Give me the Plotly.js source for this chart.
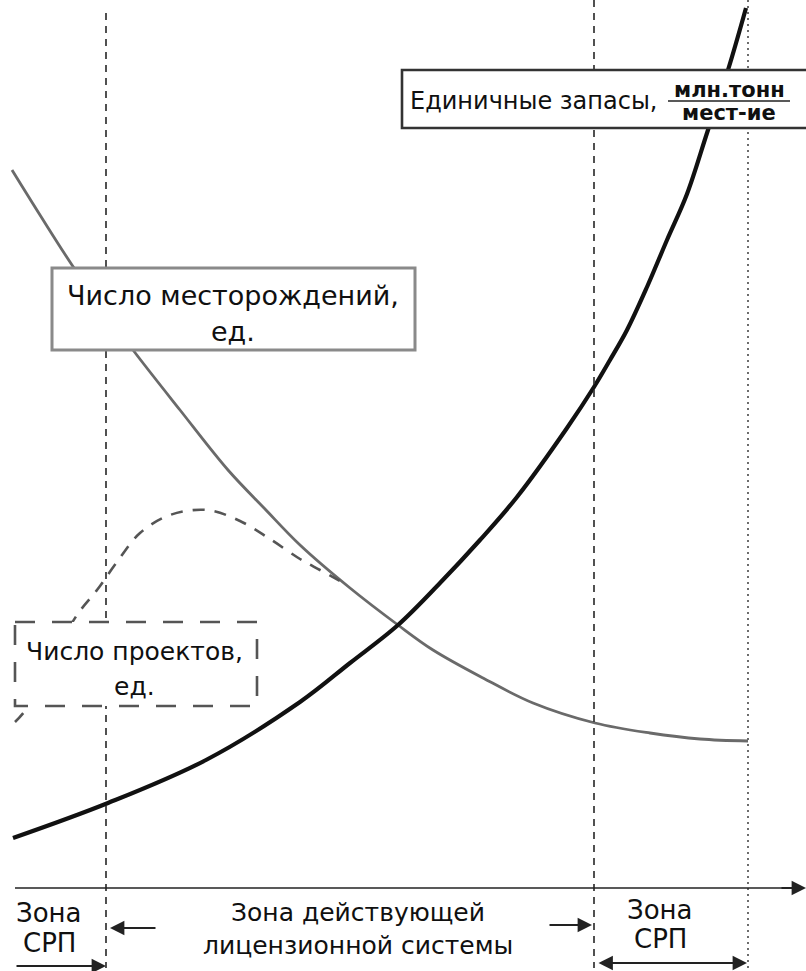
<!DOCTYPE html>
<html>
<head>
<meta charset="utf-8">
<script src="https://cdn.plot.ly/plotly-3.0.1.min.js"></script>
<style>
  html, body { margin: 0; padding: 0; background: #ffffff; }
  #chart { width: 806px; height: 971px; }
</style>
</head>
<body>
<div id="chart"></div>
<script>
// ---- data (x = position along the horizontal axis, y = height above it) ----
const reservesX = [13, 108, 206, 300, 350, 398, 440, 480, 517, 567, 594, 610, 627, 647, 667, 687, 708, 728, 746];
const reservesY = [50, 85, 128, 186, 225, 263, 305, 348, 391, 460, 501, 528, 558, 601, 648, 694, 758, 818, 880];

const fieldsX = [12, 40, 72, 100, 133, 180, 228, 265, 300, 350, 398, 433, 483, 533, 595, 650, 700, 748];
const fieldsY = [718, 673, 623, 583, 538, 478, 418, 379, 343, 300, 263, 238, 210, 185, 165, 155, 149, 147];

const projectsX = [15, 27, 50, 77, 97, 117, 140, 170, 207, 240, 270, 300, 320, 342];
const projectsY = [166, 180, 225, 273, 298, 326, 355, 373, 378, 367, 349, 329, 318, 306];

const zoneBounds = [106, 594, 748];

const fieldsLabel = ["Число месторождений,", "ед."];
const projectsLabel = ["Число проектов,", "ед."];
const reservesLabel = "Единичные запасы,";
const reservesUnit = ["млн.тонн", "мест-ие"];
const leftZone = ["Зона", "СРП"];
const midZone = ["Зона действующей", "лицензионной системы"];
const rightZone = ["Зона", "СРП"];

// ---- layout helpers ----
const AX = 888;               // pixel row of the horizontal axis
const py = p => AX - p;       // convert a picture row into axis height
const FONT = "DejaVu Sans, Verdana, sans-serif";

const traces = [
  {
    x: fieldsX, y: fieldsY, mode: "lines", type: "scatter",
    line: { color: "#6a6a6a", width: 2.8, shape: "spline", smoothing: 1 },
    hoverinfo: "skip", showlegend: false
  },
  {
    x: projectsX, y: projectsY, mode: "lines", type: "scatter",
    line: { color: "#555555", width: 2.6, dash: "12px,10px", shape: "spline", smoothing: 1 },
    hoverinfo: "skip", showlegend: false
  },
  {
    x: reservesX, y: reservesY, mode: "lines", type: "scatter",
    line: { color: "#111111", width: 4.2, shape: "spline", smoothing: 1 },
    hoverinfo: "skip", showlegend: false
  }
];

const shapes = [];
// zone boundary lines
shapes.push({ type: "line", xref: "x", yref: "y", x0: zoneBounds[0], x1: zoneBounds[0], y0: py(13), y1: py(968),
  line: { color: "#333333", width: 1.7, dash: "7px,6px" }, layer: "above" });
shapes.push({ type: "line", xref: "x", yref: "y", x0: zoneBounds[1], x1: zoneBounds[1], y0: py(0), y1: py(968),
  line: { color: "#333333", width: 1.7, dash: "7px,6px" }, layer: "above" });
shapes.push({ type: "line", xref: "x", yref: "y", x0: zoneBounds[2], x1: zoneBounds[2], y0: py(0), y1: py(968),
  line: { color: "#666666", width: 1.9, dash: "2px,4px" }, layer: "above" });
// horizontal axis
shapes.push({ type: "line", xref: "x", yref: "y", x0: 15, x1: 796, y0: 0, y1: 0,
  line: { color: "#222222", width: 1.7 }, layer: "above" });
// label boxes (opaque, hide the curves behind them)
shapes.push({ type: "rect", xref: "x", yref: "y", x0: 52, x1: 415, y0: py(268), y1: py(350),
  fillcolor: "#ffffff", line: { color: "#8a8a8a", width: 3 }, layer: "above" });
shapes.push({ type: "rect", xref: "x", yref: "y", x0: 15, x1: 257, y0: py(622), y1: py(706),
  fillcolor: "#ffffff", line: { color: "#555555", width: 2.6, dash: "20px,17px" }, layer: "above" });
shapes.push({ type: "rect", xref: "x", yref: "y", x0: 402, x1: 812, y0: py(70), y1: py(128),
  fillcolor: "#ffffff", line: { color: "#333333", width: 2.6 }, layer: "above" });
// fraction bar
shapes.push({ type: "line", xref: "x", yref: "y", x0: 668, x1: 790, y0: py(101), y1: py(101),
  line: { color: "#222222", width: 1.6 }, layer: "above" });

const txt = (x, y, text, size, anchor) => ({
  x: x, y: py(y), xref: "x", yref: "y", text: text, showarrow: false,
  xanchor: anchor || "center", yanchor: "middle",
  font: { family: FONT, size: size, color: "#101010" }
});
const arrow = (xTail, xHead, y, both) => ({
  x: xHead, y: py(y), ax: xTail, ay: py(y), xref: "x", yref: "y", axref: "x", ayref: "y",
  text: "", showarrow: true, arrowhead: 2, arrowsize: 1.6, arrowwidth: 1.8,
  arrowcolor: "#222222", standoff: 0, startstandoff: 0,
  arrowside: both ? "end+start" : "end", startarrowhead: 2, startarrowsize: 1.6
});

const annotations = [
  txt(233, 295, fieldsLabel[0], 27),
  txt(233, 331, fieldsLabel[1], 27),
  txt(134, 651, projectsLabel[0], 25),
  txt(134, 686, projectsLabel[1], 25),
  txt(408, 101, reservesLabel, 24, "left"),
  txt(729, 90, "<b>" + reservesUnit[0] + "</b>", 21),
  txt(729, 113, "<b>" + reservesUnit[1] + "</b>", 21),
  txt(49, 913, leftZone[0], 26),
  txt(49, 943, leftZone[1], 26),
  txt(358, 912, midZone[0], 25),
  txt(358, 945, midZone[1], 25),
  txt(660, 910, rightZone[0], 26),
  txt(660, 939, rightZone[1], 26),
  // axis arrow tip
  arrow(780, 806, AX),
  // zone arrows
  arrow(15, zoneBounds[0], 966),
  arrow(157, zoneBounds[0] + 4, 928),
  arrow(548, zoneBounds[1] - 2, 925),
  arrow(zoneBounds[1] + 3, zoneBounds[2] - 1, 963, true)
];

const layout = {
  width: 806, height: 971,
  margin: { l: 0, r: 0, t: 0, b: 0, pad: 0 },
  paper_bgcolor: "#ffffff", plot_bgcolor: "#ffffff",
  xaxis: { range: [0, 806], visible: false, fixedrange: true },
  yaxis: { range: [AX - 971, AX], visible: false, fixedrange: true },
  shapes: shapes, annotations: annotations, showlegend: false
};

Plotly.newPlot("chart", traces, layout, { staticPlot: true, displayModeBar: false });
</script>
</body>
</html>
